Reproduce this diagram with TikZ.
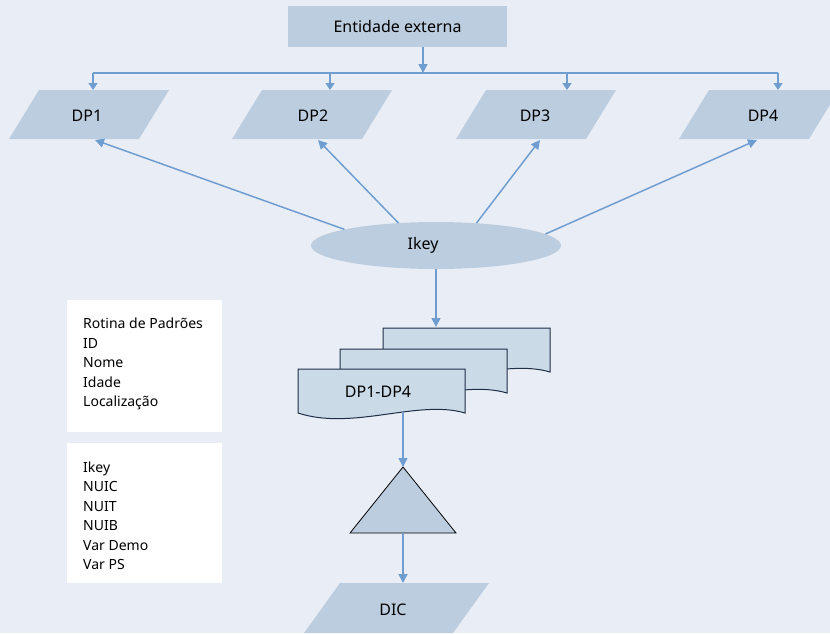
\documentclass[tikz,border=0pt]{standalone}
\usepackage{fontspec}
\setmainfont{Noto Sans}
\usetikzlibrary{shapes.geometric,arrows.meta}
\definecolor{bg}{HTML}{E9EEF6}
\definecolor{shp}{HTML}{BCCDDF}
\definecolor{docf}{HTML}{CBDAE7}
\definecolor{ln}{HTML}{6F9DD0}
\definecolor{docl}{HTML}{1F2F46}
\begin{document}
\begin{tikzpicture}[x=1pt,y=-1pt,
  conn/.style={draw=ln,line width=1.5pt,-{Triangle[length=9pt,width=9pt]}},
  dropconn/.style={draw=ln,line width=1.5pt,-{Triangle[length=7pt,width=9pt]}},
  plain/.style={draw=ln,line width=1.5pt},
  lbl/.style={font=\fontsize{16}{19}\selectfont,text=black,inner sep=0pt},
  small/.style={font=\fontsize{14}{19.5}\selectfont,align=left,anchor=north west,inner sep=0pt},
  docshape/.style={fill=docf,draw=docl,line width=1pt}]
\fill[bg] (0,0) rectangle (830,633);
\useasboundingbox (0,0) rectangle (830,633);

% external entity
\node[fill=shp,minimum width=219pt,minimum height=41pt,lbl] (ent) at (397.5,26.5) {Entidade externa};
\coordinate (entb) at (423,47);
\coordinate (b0) at (423,73);
\coordinate (bl) at (93,73);
\coordinate (br) at (778,73);
\draw[plain] (bl) -- (br);
\draw[conn] (entb) -- (b0);

% DP parallelograms
\fill[shp] (39,90) -- ++(130,0) -- ++(-30,49) -- ++(-130,0) -- cycle;
\fill[shp] (262,90) -- ++(130,0) -- ++(-30,49) -- ++(-130,0) -- cycle;
\fill[shp] (486,90) -- ++(130,0) -- ++(-30,49) -- ++(-130,0) -- cycle;
\fill[shp] (709,90) -- ++(130,0) -- ++(-30,49) -- ++(-130,0) -- cycle;
\node[lbl] (dp1) at (87,116) {DP1};
\node[lbl] (dp2) at (313,116) {DP2};
\node[lbl] (dp3) at (535,116) {DP3};
\node[lbl] (dp4) at (763,116) {DP4};

\coordinate (d1) at (93,73);  \coordinate (t1) at (93,90);
\coordinate (d2) at (330,73); \coordinate (t2) at (330,90);
\coordinate (d3) at (567,73); \coordinate (t3) at (567,90);
\coordinate (d4) at (778,73); \coordinate (t4) at (778,90);
\draw[dropconn] (d1) -- (t1);
\draw[dropconn] (d2) -- (t2);
\draw[dropconn] (d3) -- (t3);
\draw[dropconn] (d4) -- (t4);

% Ikey ellipse
\node[ellipse,fill=shp,minimum width=250pt,minimum height=47pt,inner sep=0pt] (ikey) at (436,245.5) {};
\node[lbl] (ikeyt) at (423,245) {Ikey};
\coordinate (p1) at (95,140);
\coordinate (p2) at (318,140);
\coordinate (p3) at (540,140);
\coordinate (p4) at (757,140);
\draw[conn] (ikey.170) -- (p1);
\draw[conn] (ikey.149) -- (p2);
\draw[conn] (ikey.29) -- (p3);
\draw[conn] (ikey.6) -- (p4);

% documents
\coordinate (dtop) at (436,327);
\draw[conn] (ikey.south) -- (dtop);
\begin{scope}[shift={(383,328)}]
  \draw[docshape] (0,0) -- (167,0) -- (167,44) .. controls (120,30) and (55,62) .. (0,44) -- cycle;
\end{scope}
\begin{scope}[shift={(340,349)}]
  \draw[docshape] (0,0) -- (167,0) -- (167,44) .. controls (120,30) and (55,62) .. (0,44) -- cycle;
\end{scope}
\begin{scope}[shift={(298,369)}]
  \draw[docshape] (0,0) -- (167,0) -- (167,44) .. controls (120,30) and (55,62) .. (0,44) -- cycle;
\end{scope}
\node[lbl] (docs) at (378,392) {DP1-DP4};

% triangle
\coordinate (docbot) at (403,412);
\coordinate (tritop) at (403,467);
\coordinate (tribot) at (403,533);
\filldraw[fill=shp,draw=black,line width=0.8pt] (tritop) -- (456,533) -- (350,533) -- cycle;
\draw[conn] (docbot) -- (tritop);

% DIC
\coordinate (dictop) at (403,583);
\fill[shp] (340,583) -- (489,583) -- (453,633) -- (304,633) -- cycle;
\node[lbl] (dic) at (393,610) {DIC};
\draw[conn] (tribot) -- (dictop);

% white boxes
\fill[white] (67,300) rectangle (222,432);
\node[small] (rot) at (83,318) {Rotina de Padrões\\ID\\Nome\\Idade\\Localização};
\fill[white] (67,443) rectangle (222,583);
\node[small] (ikl) at (83,461.5) {Ikey\\NUIC\\NUIT\\NUIB\\Var Demo\\Var PS};
\end{tikzpicture}
\end{document}
